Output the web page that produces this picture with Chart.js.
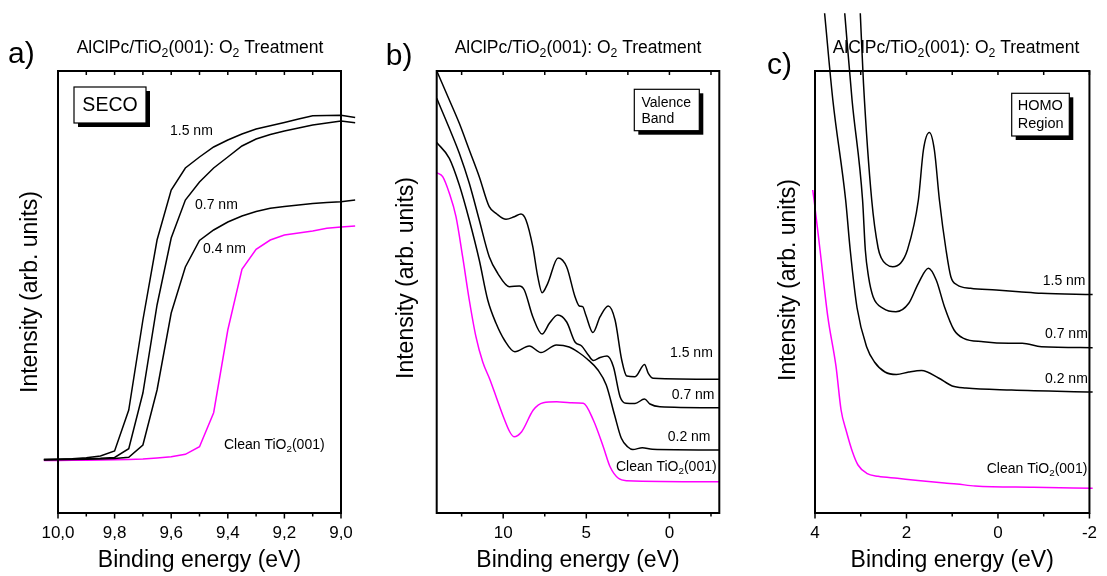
<!DOCTYPE html>
<html>
<head>
<meta charset="utf-8">
<script src="https://cdn.jsdelivr.net/npm/chart.js@4.4.1/dist/chart.umd.min.js"></script>
<style>
  body { margin: 0; background: #fff; }
  #wrap { position: relative; width: 1107px; height: 576px; overflow: hidden; }
  canvas { position: absolute; top: 0; }
</style>
</head>
<body>
<div id="wrap">
  <canvas id="panelA" width="370" height="576" style="left:0"></canvas>
  <canvas id="panelB" width="370" height="576" style="left:370px"></canvas>
  <canvas id="panelC" width="367" height="576" style="left:740px"></canvas>
</div>
<script>
// a) SECO, straight segments every 0.05 eV
const secoEnergy = [10.05, 10.0, 9.95, 9.9, 9.85, 9.8, 9.75, 9.7, 9.65, 9.6, 9.55, 9.5, 9.45, 9.4, 9.35, 9.3, 9.25, 9.2, 9.15, 9.1, 9.05, 9.0, 8.95];
const seco15 = [53.5, 53.8, 54.2, 55.2, 57, 62, 103, 193, 273, 323, 345, 356, 366, 373, 379, 384, 387.3, 390.6, 394, 397.3, 397.5, 397.7, 395.5];
const seco07 = [53.5, 53.7, 54, 54.3, 54.7, 55.5, 64.3, 120, 208, 275, 313, 331, 345, 356, 367, 374, 378.5, 382, 385, 388, 390, 392, 390.3];
const seco04 = [53, 53.2, 53.5, 53.7, 54, 54.5, 55.7, 68, 123, 200, 246, 272.5, 283, 291, 297, 301.5, 304.7, 306.5, 308, 309.5, 310.5, 311.3, 313];
const secoClean = [52.5, 52.6, 52.7, 52.8, 53, 53.2, 53.5, 54, 55, 56.3, 58.7, 66.3, 100.3, 183, 243.7, 263.7, 273, 278, 280, 282, 284.7, 286, 287];
const secoTicks = [10, 9.8, 9.6, 9.4, 9.2, 9.0];
const secoMinor = [9.9, 9.7, 9.5, 9.3, 9.1];

// b) valence band
const vbE15 = [14, 13.24, 12.64, 12.04, 11.44, 10.84, 10.43, 9.83, 9.33, 8.93, 8.63, 8.22, 7.92, 7.66, 7.32, 6.7, 6.18, 5.68, 5.42, 5.22, 5.03, 4.6, 4.17, 3.68, 3.27, 2.87, 2.57, 2.07, 1.5, 1.27, 0.97, -3];
const vbI15 = [442.3, 413, 389.7, 363, 336.3, 306.3, 299.7, 293.7, 296.3, 299, 293, 266.3, 236.3, 220.3, 229.7, 255, 246, 216.3, 207, 206.3, 198, 180.5, 196.3, 207, 193, 153, 137, 136.3, 148.5, 139.7, 134.7, 133.7];
const vbE07 = [14, 13.24, 12.64, 12.04, 11.44, 10.84, 10.33, 9.63, 9.03, 8.73, 8.22, 7.66, 7.22, 6.72, 6.18, 5.68, 5.28, 4.88, 4.58, 4.17, 3.75, 3.37, 2.97, 2.61, 2.07, 1.5, 1.17, 0.57, -3];
const vbI07 = [414.7, 384.7, 359.7, 329.7, 293, 256.3, 239.7, 226.3, 227, 223, 196.3, 179, 189.7, 198, 191, 171, 167, 158, 152.5, 155.5, 157, 146.3, 116.3, 109.7, 109.5, 114, 109, 106.3, 105.3];
const vbE02 = [14, 13.24, 12.64, 12.04, 11.44, 10.93, 10.43, 9.93, 9.3, 8.43, 7.73, 6.8, 6.03, 5.5, 4.95, 4.3, 3.8, 3.3, 2.9, 2.5, 2.2, 1.63, 1.03, -3];
const vbI02 = [370.5, 354.7, 328, 293, 253, 213, 189.7, 173, 161.3, 167, 160.5, 168, 166, 161, 154, 143, 128, 98, 75, 66, 63.5, 65.3, 63.7, 63];
const vbEClean = [14, 13.64, 13.24, 12.84, 12.44, 12.04, 11.64, 11.23, 10.79, 10.4, 9.99, 9.6, 9.35, 8.89, 8.19, 7.59, 6.78, 5.98, 5.18, 4.58, 3.98, 3.57, 3.07, 2.57, -3];
const vbIClean = [340.3, 336.3, 319.7, 296.3, 256.3, 213, 176.3, 151, 133, 115, 96.3, 81, 76.3, 81.3, 103, 110.3, 111.3, 110.3, 109.7, 93, 66.3, 46.3, 34.7, 32.3, 31.3];
const vbTicks = [10, 5, 0];
const vbMinor = [12.5, 7.5, 2.5, -2.5];

// c) HOMO region
const homoE15 = [3.01, 2.94, 2.76, 2.62, 2.55, 2.45, 2.30, 2.13, 1.98, 1.74, 1.63, 1.5, 1.39, 1.28, 1.135, 1.03, 0.89, 0.60, 0.04, -0.46, -0.95, -2.07];
const homoI15 = [499.7, 429.7, 313, 265, 255, 249, 246.3, 249.7, 263, 313, 363, 380.5, 363, 313, 263, 236.3, 228, 224.7, 223, 221.3, 219.7, 218.5];
const homoE07 = [3.35, 3.19, 2.96, 2.90, 2.83, 2.73, 2.51, 2.23, 1.95, 1.74, 1.52, 1.35, 1.17, 0.96, 0.75, 0.32, -0.24, -0.53, -0.95, -2.07];
const homoI07 = [499.7, 413, 313, 263, 236.3, 216.3, 204.7, 201.3, 209.7, 229.7, 244.7, 233, 206.3, 183, 174.7, 171.3, 169.7, 169.7, 166.3, 165.3];
const homoE02 = [3.79, 3.61, 3.33, 3.23, 3.08, 2.87, 2.7, 2.47, 2.22, 1.95, 1.67, 1.3, 1.0, 0.7, -0.3, -2.07];
const homoI02 = [499.7, 413, 313, 263, 205, 166, 151, 141, 138.5, 141, 142.5, 135, 127, 125, 123, 121];
const homoEClean = [4.05, 4.02, 3.89, 3.72, 3.54, 3.43, 3.31, 3.18, 3.06, 2.87, 2.62, 2.2, 1.75, 1.17, 0.9, 0.5, -0.775, -2.07];
const homoIClean = [323, 313, 263, 196.3, 146.3, 103, 81, 61, 48, 39.7, 36.7, 34.7, 32.5, 30, 29, 27, 25.7, 24.7];
const homoTicks = [4, 2, 0, -2];
const homoMinor = [3, 1, -1];

const FONT = '"Liberation Sans", Arial, Helvetica, sans-serif';
const TITLE = 'AlClPc/TiO_{2}(001): O_{2} Treatment';
const CLEAN = 'Clean TiO_{2}(001)';
const MAGENTA = '#ff00ff';

Chart.defaults.font.family = FONT;

// text with _{sub} parts
function rich(ctx, str, x, y, size, align) {
  const parts = str.split(/_\{(.*?)\}/);
  const big = size + 'px ' + FONT;
  const small = (size * 0.7) + 'px ' + FONT;
  let w = 0;
  parts.forEach((p, i) => { ctx.font = i % 2 ? small : big; w += ctx.measureText(p).width; });
  let cx = align === 'center' ? x - w / 2 : x;
  ctx.textAlign = 'left';
  ctx.textBaseline = 'middle';
  parts.forEach((p, i) => {
    ctx.font = i % 2 ? small : big;
    ctx.fillText(p, cx, i % 2 ? y + size * 0.32 : y);
    cx += ctx.measureText(p).width;
  });
}

const decor = {
  id: 'decor',
  afterDraw(chart, args, o) {
    const { ctx, chartArea: a } = chart;
    const xs = chart.scales.x;
    ctx.save();
    ctx.strokeStyle = '#000';
    ctx.fillStyle = '#000';
    ctx.lineWidth = 2;
    ctx.strokeRect(a.left, a.top, a.right - a.left, a.bottom - a.top);

    ctx.lineWidth = 1.5;
    ctx.beginPath();
    const tick = (v, down) => {
      const px = xs.getPixelForValue(v);
      ctx.moveTo(px, a.bottom); ctx.lineTo(px, a.bottom + down);
      ctx.moveTo(px, a.top); ctx.lineTo(px, a.top + 4);
    };
    o.major.forEach(v => tick(v, 5.5));
    o.minor.forEach(v => tick(v, 3.5));
    ctx.stroke();

    ctx.font = '30px ' + FONT;
    ctx.textAlign = 'left';
    ctx.textBaseline = 'middle';
    ctx.fillText(o.letter[0], o.letter[1], o.letter[2]);

    rich(ctx, TITLE, o.title[0], o.title[1], 17.5, 'center');

    ctx.font = '23px ' + FONT;
    ctx.textAlign = 'center';
    ctx.textBaseline = 'middle';
    ctx.fillText('Binding energy (eV)', (a.left + a.right) / 2, 561);
    ctx.save();
    ctx.translate(o.yTitle[0], o.yTitle[1]);
    ctx.rotate(-Math.PI / 2);
    ctx.fillText('Intensity (arb. units)', 0, 0);
    ctx.restore();

    const b = o.box;
    ctx.fillRect(b.x + 4, b.y + 4, b.w, b.h);
    ctx.fillStyle = '#fff';
    ctx.fillRect(b.x, b.y, b.w, b.h);
    ctx.lineWidth = 1.2;
    ctx.strokeRect(b.x, b.y, b.w, b.h);
    ctx.fillStyle = '#000';
    ctx.font = b.size + 'px ' + FONT;
    ctx.textAlign = b.align;
    b.lines.forEach(([t, tx, ty]) => ctx.fillText(t, tx, ty));

    o.labels.forEach(([t, lx, ly]) => rich(ctx, t, lx, ly, 14, 'left'));
    ctx.restore();
  }
};

function pts(es, is) {
  return es.map((e, i) => ({ x: e, y: is[i] }));
}

function series(label, es, is, color, smooth) {
  return {
    label: label,
    data: pts(es, is),
    borderColor: color,
    borderWidth: 1.5,
    pointRadius: 0,
    fill: false,
    clip: false,
    tension: smooth ? 0.4 : 0,
    cubicInterpolationMode: smooth ? 'monotone' : 'default'
  };
}

function panel(id, xMin, xMax, ticks, fmt, datasets, padLeft, padRight, decorOpts) {
  return new Chart(document.getElementById(id), {
    type: 'line',
    data: { datasets: datasets },
    options: {
      responsive: false,
      animation: false,
      events: [],
      layout: { padding: { left: padLeft, right: padRight, top: 71, bottom: 0 } },
      plugins: { legend: { display: false }, tooltip: { enabled: false }, decor: decorOpts },
      scales: {
        x: {
          type: 'linear',
          reverse: true,
          min: xMin,
          max: xMax,
          grid: { display: false, drawTicks: false },
          border: { display: false },
          ticks: {
            color: '#000',
            font: { size: 17 },
            padding: 10,
            autoSkip: false,
            maxRotation: 0,
            minRotation: 0,
            callback: fmt
          },
          afterBuildTicks: s => { s.ticks = ticks.map(v => ({ value: v })); },
          afterFit: s => { s.height = 63; }
        },
        y: { display: false, min: 0, max: 442 }
      }
    },
    plugins: [decor]
  });
}

panel('panelA', 9, 10, secoTicks, v => v.toFixed(1).replace('.', ','), [
  series('1.5 nm', secoEnergy, seco15, '#000', false),
  series('0.7 nm', secoEnergy, seco07, '#000', false),
  series('0.4 nm', secoEnergy, seco04, '#000', false),
  series('Clean TiO2(001)', secoEnergy, secoClean, MAGENTA, false)
], 58, 29, {
  major: secoTicks, minor: secoMinor,
  letter: ['a)', 8, 55],
  title: [200, 48],
  yTitle: [30.5, 292],
  box: { x: 74, y: 87, w: 72, h: 36, size: 19.5, align: 'center', lines: [['SECO', 110, 106]] },
  labels: [['1.5 nm', 170, 131.5], ['0.7 nm', 195, 205], ['0.4 nm', 203, 249], [CLEAN, 224, 445]]
});

panel('panelB', -3, 14, vbTicks, v => String(v), [
  series('1.5 nm', vbE15, vbI15, '#000', true),
  series('0.7 nm', vbE07, vbI07, '#000', true),
  series('0.2 nm', vbE02, vbI02, '#000', true),
  series('Clean TiO2(001)', vbEClean, vbIClean, MAGENTA, true)
], 66.7, 20.7, {
  major: vbTicks, minor: vbMinor,
  letter: ['b)', 15.7, 57],
  title: [208, 48],
  yTitle: [36.7, 278],
  box: { x: 264.3, y: 89.3, w: 65, h: 41.4, size: 14, align: 'left', lines: [['Valence', 271.5, 102.7], ['Band', 271.5, 119.3]] },
  labels: [['1.5 nm', 300, 352.7], ['0.7 nm', 301.7, 395], ['0.2 nm', 297.7, 436.7], [CLEAN, 246, 466.7]]
});

panel('panelC', -2, 4, homoTicks, v => String(v), [
  series('1.5 nm', homoE15, homoI15, '#000', true),
  series('0.7 nm', homoE07, homoI07, '#000', true),
  series('0.2 nm', homoE02, homoI02, '#000', true),
  series('Clean TiO2(001)', homoEClean, homoIClean, MAGENTA, true)
], 75, 9.3, {
  major: homoTicks, minor: homoMinor,
  letter: ['c)', 27, 65.5],
  title: [216, 48],
  yTitle: [48.4, 280],
  box: { x: 271.7, y: 93.3, w: 57.6, h: 42.7, size: 14.5, align: 'left', lines: [['HOMO', 277.7, 106], ['Region', 277.7, 124]] },
  labels: [['1.5 nm', 302.7, 281], ['0.7 nm', 305, 334.3], ['0.2 nm', 305, 379.3], [CLEAN, 246.7, 469.3]]
});
</script>
</body>
</html>
